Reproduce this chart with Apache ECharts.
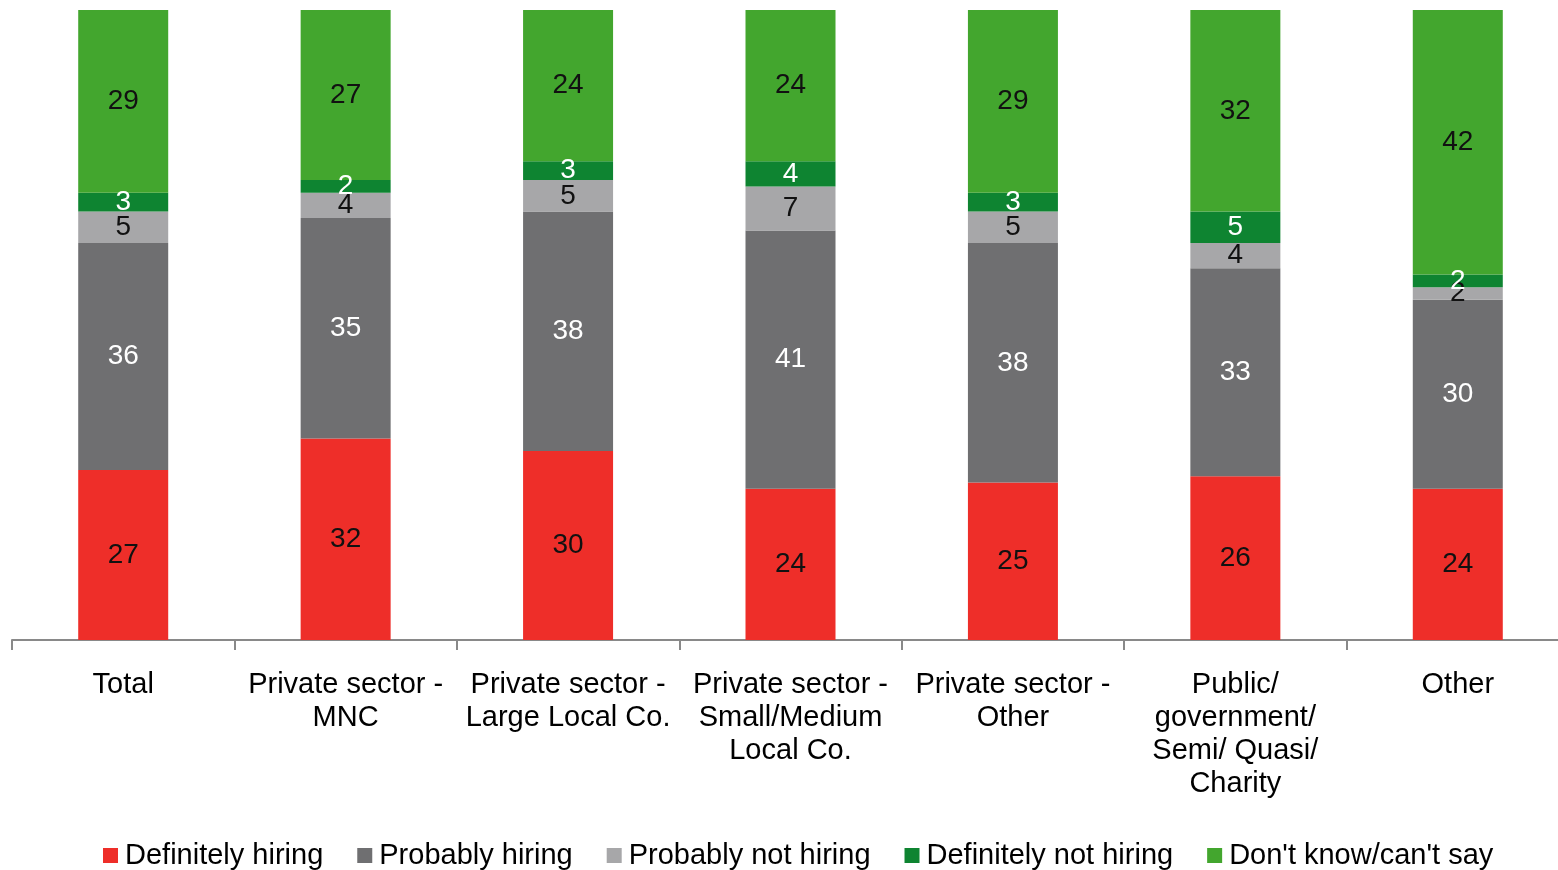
<!DOCTYPE html>
<html>
<head>
<meta charset="utf-8">
<script src="https://cdn.jsdelivr.net/npm/echarts@6/dist/echarts.min.js"></script>
<style>
  html, body { margin: 0; padding: 0; background: #fff; overflow: hidden; }
  #chart { width: 1569px; height: 870px; }
</style>
</head>
<body>
<div id="chart"></div>
<script>
const categories = [
  "Total",
  "Private sector -\nMNC",
  "Private sector -\nLarge Local Co.",
  "Private sector -\nSmall/Medium\nLocal Co.",
  "Private sector -\nOther",
  "Public/\ngovernment/\nSemi/ Quasi/\nCharity",
  "Other"
];

const definitelyHiring = [27, 32, 30, 24, 25, 26, 24];
const probablyHiring = [36, 35, 38, 41, 38, 33, 30];
const probablyNotHiring = [5, 4, 5, 7, 5, 4, 2];
const definitelyNotHiring = [3, 2, 3, 4, 3, 5, 2];
const dontKnow = [29, 27, 24, 24, 29, 32, 42];

const FONT = "'Liberation Sans', Arial, sans-serif";

const chart = echarts.init(document.getElementById("chart"));

function makeSeries(name, data, color, labelColor) {
  return {
    name,
    type: "bar",
    stack: "all",
    data,
    barWidth: 90,
    itemStyle: { color },
    label: {
      show: true,
      position: "inside",
      color: labelColor,
      fontFamily: FONT,
      fontSize: 28
    }
  };
}

chart.setOption({
  animation: false,
  grid: { left: 12, right: 0, top: 10, bottom: 230 },
  legend: {
    top: 836,
    left: 98,
    itemWidth: 15,
    itemHeight: 15,
    itemGap: 34,
    icon: "rect",
    textStyle: { fontFamily: FONT, fontSize: 29, color: "#000", padding: [0, 0, 0, 2] },
    data: ["Definitely hiring", "Probably hiring", "Probably not hiring", "Definitely not hiring", "Don't know/can't say"]
  },
  xAxis: {
    type: "category",
    data: categories,
    axisLine: { show: true, lineStyle: { color: "#898989", width: 2 } },
    axisTick: { show: true, length: 10, lineStyle: { color: "#898989", width: 2 } },
    axisLabel: {
      interval: 0,
      margin: 28,
      color: "#000",
      fontFamily: FONT,
      fontSize: 29,
      lineHeight: 33
    }
  },
  yAxis: {
    type: "value",
    min: 0,
    max: 100,
    show: false
  },
  series: [
    makeSeries("Definitely hiring", definitelyHiring, "#EE2E29", "#111"),
    makeSeries("Probably hiring", probablyHiring, "#6F6F71", "#fff"),
    makeSeries("Probably not hiring", probablyNotHiring, "#A7A7A9", "#111"),
    makeSeries("Definitely not hiring", definitelyNotHiring, "#0E8431", "#fff"),
    makeSeries("Don't know/can't say", dontKnow, "#43A62E", "#111")
  ]
});
</script>
</body>
</html>
